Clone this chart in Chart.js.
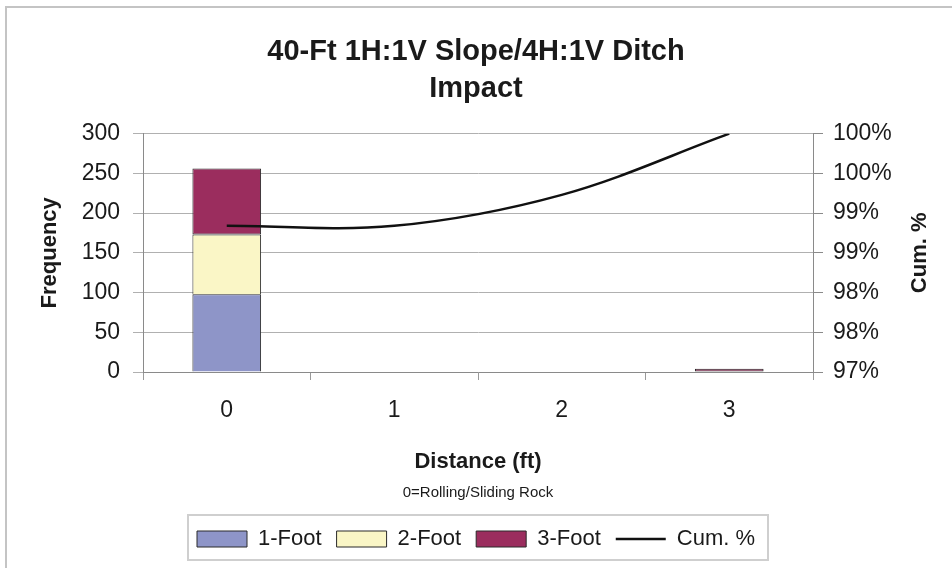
<!DOCTYPE html>
<html><head><meta charset="utf-8">
<script src="https://cdn.jsdelivr.net/npm/chart.js@4.4.1/dist/chart.umd.min.js"></script>
<style>html,body{margin:0;padding:0;background:#fff;}#wrap{position:relative;width:952px;height:568px;}</style>
</head><body><div id="wrap"><canvas id="c" width="952" height="568"></canvas></div>
<script>
const categories = ['0', '1', '2', '3'];
const seriesNames = ['1-Foot', '2-Foot', '3-Foot', 'Cum. %'];
const oneFoot = [98, 0, 0, 0];
const twoFoot = [75, 0, 0, 0];
const threeFoot = [83, 0, 0, 4];
const cumPercent = [0.9884, 0.9884, 0.9923, 1.0];
const freqTicks = [0, 50, 100, 150, 200, 250, 300];
const cumTickValues = [0.97, 0.975, 0.98, 0.985, 0.99, 0.995, 1.0];
const cumTickLabels = ['97%', '98%', '98%', '99%', '99%', '100%', '100%'];
const titleLines = ['40-Ft 1H:1V Slope/4H:1V Ditch', 'Impact'];
const xTitle = 'Distance (ft)';
const xNote = '0=Rolling/Sliding Rock';
const yTitle = 'Frequency';
const y2Title = 'Cum. %';

const FAMILY = '"Liberation Sans", Arial, Helvetica, sans-serif';
Chart.defaults.font.family = FAMILY;
Chart.defaults.color = '#1a1a1a';

const decor = {
  id: 'decor',
  beforeDraw(chart) {
    const ctx = chart.ctx;
    ctx.save();
    ctx.fillStyle = '#fff';
    ctx.fillRect(0, 0, chart.width, chart.height);
    ctx.strokeStyle = '#c4c4c4';
    ctx.lineWidth = 2;
    ctx.strokeRect(6, 7, chart.width + 20, chart.height + 20);
    ctx.restore();
  },
  afterDraw(chart) {
    const ctx = chart.ctx;
    const ca = chart.chartArea;
    const xs = chart.scales.x;
    ctx.save();
    ctx.fillStyle = '#1a1a1a';
    ctx.textAlign = 'center';
    ctx.textBaseline = 'middle';
    ctx.font = '15px ' + FAMILY;
    ctx.fillText(xNote, (ca.left + ca.right) / 2, xs.bottom - 20);
    ctx.save();
    ctx.translate(chart.width - 32, (ca.top + ca.bottom) / 2);
    ctx.rotate(-Math.PI / 2);
    ctx.font = 'bold 22px ' + FAMILY;
    ctx.fillText(y2Title, 0, 0);
    ctx.restore();
    const hb = chart.legend.legendHitBoxes;
    if (hb && hb.length) {
      let l = Infinity, r = -Infinity, t = Infinity, b = -Infinity;
      hb.forEach(h => { l = Math.min(l, h.left); r = Math.max(r, h.left + h.width); t = Math.min(t, h.top); b = Math.max(b, h.top + h.height); });
      ctx.strokeStyle = '#cfcfcf';
      ctx.lineWidth = 2;
      ctx.strokeRect(l - 9, t - 13, (r - l) + 22, (b - t) + 23);
    }
    ctx.restore();
  }
};

new Chart(document.getElementById('c'), {
  data: {
    labels: categories,
    datasets: [
      { type: 'bar', label: seriesNames[0], data: oneFoot, backgroundColor: '#8e95c8', borderColor: '#2a2a2a', borderWidth: 1, yAxisID: 'y', order: 2, pointStyle: 'rect' },
      { type: 'bar', label: seriesNames[1], data: twoFoot, backgroundColor: '#faf6c6', borderColor: '#2a2a2a', borderWidth: 1, yAxisID: 'y', order: 2, pointStyle: 'rect' },
      { type: 'bar', label: seriesNames[2], data: threeFoot, backgroundColor: '#9b2d5e', borderColor: '#2a2a2a', borderWidth: 1, yAxisID: 'y', order: 2, pointStyle: 'rect', borderSkipped: false },
      { type: 'line', label: seriesNames[3], data: cumPercent, borderColor: '#111', backgroundColor: '#111', borderWidth: 2.5, pointRadius: 0, tension: 0.35, yAxisID: 'y1', order: 1, pointStyle: 'line', fill: false }
    ]
  },
  options: {
    responsive: false,
    animation: false,
    devicePixelRatio: 1,
    layout: { padding: { left: 0, right: 0, top: 0, bottom: 8 } },
    datasets: { bar: { barPercentage: 0.41, categoryPercentage: 1.0 } },
    plugins: {
      tooltip: { enabled: false },
      title: {
        display: true, text: titleLines, color: '#1a1a1a',
        font: { size: 29, weight: 'bold', lineHeight: 1.27 },
        padding: { top: 34, bottom: 26 }
      },
      legend: {
        display: true, position: 'bottom',
        labels: {
          usePointStyle: true, pointStyleWidth: 50, boxHeight: 16, padding: 15,
          font: { size: 22 }, color: '#1a1a1a',
          sort: (a, b) => a.datasetIndex - b.datasetIndex
        }
      }
    },
    scales: {
      x: {
        stacked: true,
        grid: { display: true, drawOnChartArea: false, tickLength: 8, color: '#9a9a9a', offset: true },
        border: { display: true, color: '#8a8a8a' },
        ticks: { font: { size: 23 }, padding: 17, color: '#1a1a1a' },
        title: { display: true, text: xTitle, font: { size: 22, weight: 'bold' }, padding: { top: 7, bottom: 38 }, color: '#1a1a1a' }
      },
      y: {
        stacked: true, position: 'left', min: 0, max: 300,
        afterFit: s => { s.width = 143; },
        afterBuildTicks: s => { s.ticks = freqTicks.map(v => ({ value: v })); },
        grid: { color: '#b0b0b0', tickLength: 10, drawTicks: true },
        border: { display: true, color: '#8a8a8a' },
        ticks: { font: { size: 23 }, padding: 13, color: '#1a1a1a', callback: (v, i) => String(freqTicks[i]) },
        title: { display: true, text: yTitle, font: { size: 22, weight: 'bold' }, padding: { top: 37 }, color: '#1a1a1a' }
      },
      y1: {
        position: 'right', min: 0.97, max: 1.0,
        afterFit: s => { s.width = 139; },
        afterBuildTicks: s => { s.ticks = cumTickValues.map(v => ({ value: v })); },
        grid: { drawOnChartArea: false, tickLength: 10, color: '#8a8a8a' },
        border: { display: true, color: '#8a8a8a' },
        ticks: { font: { size: 23 }, padding: 10, color: '#1a1a1a', callback: (v, i) => cumTickLabels[i] }
      }
    }
  },
  plugins: [decor]
});
</script></body></html>
